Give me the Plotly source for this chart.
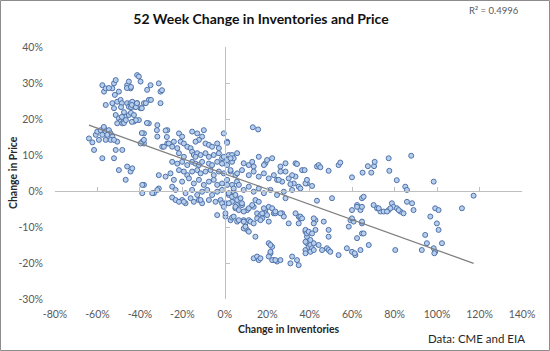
import plotly.graph_objects as go

# ---- data (percent) ----
inv_change = [
    # left cluster
    -57.7,-56.9,-56.1,-53.0,-52.2,-51.4,-51.8,-49.9,-46.0,-45.2,-44.4,-41.3,-40.5,-39.7,-36.6,-35.0,-31.1,-30.3,
    -56.1,-53.0,-52.2,-50.7,-49.1,-46.0,-45.2,-44.4,-43.6,-42.8,-41.3,-39.7,-38.1,-35.8,-30.3,
    -51.4,-49.9,-49.1,-50.7,-48.3,-47.5,-46.7,-45.2,-42.8,-40.5,-35.8,-31.8,-38.1,-31.8,-27.1,
    -64.0,-60.8,-60.1,-58.5,-56.9,-56.1,-54.6,-53.8,-53.0,-55.4,-57.7,-59.3,-56.1,-53.8,-50.7,
    -61.6,-57.7,-52.2,-48.3,-49.9,-46.0,-44.4,-43.6,-46.7,-38.1,-38.9,-31.1,-31.8,-38.1,-38.9,-39.7,-29.5,-27.1,
    -54.6,-48.5,-48.9,-47.5,-48.5,-46.1,-44.2,-44.2,-43.8,-41.9,-41.4,-37.2,-39.1,-34.8,-29.6,-44.2,-42.8,-41.9,
    -43.8,-47.5,-46.6,-36.7,-32.0,-39.1,-38.1,-27.3,-57.0,-52.2,-51.4,-33.4,-62.4,
    # region -30..0
    -27.9,-21.6,-20.1,-20.8,-15.4,-13.0,-9.9,-10.7,-12.2,-13.8,
    -28.7,-26.4,-24.0,-24.8,-22.4,-19.3,-17.7,-16.1,-9.1,-7.5,-6.0,-3.6,-2.8,1.1,
    -15.4,-14.6,-13.0,-13.8,-11.4,-21.6,-19.3,-9.1,-7.5,-5.2,-2.8,-1.3,1.9,
    -24.8,-22.4,-20.1,-17.7,-15.4,-13.8,-12.2,-10.7,-7.5,-6.0,-3.6,-1.3,1.1,3.4,
    -31.1,-27.9,-25.6,-21.6,-19.3,-17.7,-15.4,-13.0,-11.4,-9.1,-6.7,-5.2,-2.8,-0.5,2.7,5.0,
    -24.0,-20.1,-16.9,-14.6,-12.2,-9.9,-7.5,-5.2,-3.6,-1.3,1.1,3.4,5.7,
    -23.2,-18.5,-15.4,-13.0,-10.7,-8.3,-6.0,-3.6,-1.3,1.9,4.2,
    -20.1,-18.5,-16.1,-14.6,-12.2,-10.7,-7.5,-4.4,-2.0,0.3,3.4,5.7,
    -24.8,-23.2,-21.6,-19.3,-11.4,
    -3.6,0.3,-1.3,-0.5,2.7,5.8,9.7,10.5,8.9,-38.9,-34.2,-24.8,-0.5,
    # region 0..35
    13.2,15.7,1.1,-0.5,1.1,3.4,5.8,4.2,2.7,
    8.9,11.3,12.9,13.6,16.0,19.1,19.9,22.3,26.2,28.6,28.6,33.3,34.0,36.4,18.4,
    2.7,5.8,8.1,11.3,13.6,16.0,18.4,20.7,23.1,24.6,27.0,30.1,32.5,34.8,33.3,
    1.1,4.2,6.6,8.9,11.3,13.6,16.0,18.4,21.5,24.6,27.8,28.6,31.7,35.6,
    1.9,5.0,8.1,10.5,13.6,15.2,19.1,23.1,27.0,27.8,34.8,
    0.3,3.4,8.9,11.3,12.1,16.8,17.6,19.1,20.7,23.8,30.1,34.8,38.0,38.7,38.7,38.0,
    9.7,11.3,14.4,20.7,22.3,21.5,20.7,13.6,15.2,16.0,16.8,23.1,24.6,26.2,31.7,34.0,34.8,
    21.5,21.5,22.3,23.8,30.9,
    17.6,18.4,19.9,20.7,22.3,23.8,26.2,
    1.9,3.4,5.0,5.8,7.4,8.1,5.0,6.6,8.9,11.3,12.9,14.4,16.0,4.2,6.6,8.9,13.6,15.2,16.8,
    # region > 35
    38.0,38.7,39.5,38.0,39.5,40.3,41.1,41.9,40.3,44.2,45.8,48.1,48.9,49.7,48.9,46.6,42.7,41.9,
    53.6,57.5,59.9,61.5,62.3,58.4,59.2,60.7,64.6,64.6,67.8,80.3,92.8,95.2,98.4,99.1,94.4,
    99.9,100.7,102.3,96.8,99.1,100.7,111.7,117.2,
    50.5,43.4,33.3,35.6,
    59.9,62.3,63.9,64.6,65.4,
    70.1,71.7,73.3,74.8,77.2,78.7,79.5,78.0,81.1,82.7,84.2,85.8,88.2,88.9,
    85.0,85.8,98.4,81.0,
    37.6,43.4,44.2,45.0,48.9,53.6,54.4,59.9,64.9,67.4,69.0,70.3,70.6,77.2,77.5,87.8,
    26.2,31.7,38.7,41.1,30.9,25.4,38.0,38.7,
    40.3,48.9,42.7,41.1,38.0,41.9,35.6,36.4,41.9,
    62.3,64.6,64.6,72.5,76.4,81.9,59.9,63.9,65.4,61.2,98.7,
]

price_change = [
    # left cluster
    29.4,27.6,28.5,28.5,29.9,30.8,26.7,27.6,29.4,30.4,28.5,32.2,31.8,30.4,28.1,29.4,29.9,27.6,
    23.9,24.4,23.0,24.8,25.3,24.4,23.4,24.4,24.8,23.4,24.4,23.0,24.4,25.3,24.4,
    21.1,20.2,19.3,18.8,18.8,19.7,20.6,21.1,19.3,19.7,18.8,18.3,16.0,15.1,16.9,
    14.6,15.6,16.5,16.9,17.4,16.5,16.9,16.0,15.1,15.6,15.6,14.2,14.2,14.2,13.7,
    11.4,9.1,9.1,11.4,5.8,6.8,5.4,6.3,3.1,1.7,-0.6,0.7,0.3,13.2,13.7,13.2,12.3,13.2,
    28.6,24.4,23.3,21.9,20.6,28.6,28.9,23.3,23.9,23.3,24.4,24.4,23.0,25.3,28.0,21.7,21.1,19.7,
    19.2,18.9,19.7,18.9,16.9,16.1,14.2,15.0,17.8,14.2,11.4,-0.6,13.5,
    # region -30..0
    16.8,16.0,15.1,13.7,16.5,16.0,16.9,15.1,14.2,13.7,
    12.3,13.2,13.7,12.3,11.9,13.2,12.3,11.9,13.2,12.8,12.3,13.2,11.9,13.7,
    10.9,10.0,10.5,9.5,10.0,10.5,9.5,10.5,9.5,10.0,10.5,9.1,10.0,
    8.1,7.6,8.1,7.2,8.1,7.6,7.2,8.1,7.6,7.2,8.1,7.6,7.2,8.1,
    4.4,4.0,4.9,5.8,5.4,4.4,5.4,5.8,4.9,5.4,5.8,4.4,5.4,4.9,5.4,4.4,
    3.1,2.6,3.5,2.1,3.1,1.7,2.6,3.1,1.7,2.1,3.1,1.7,2.6,
    0.3,-0.6,0.3,-1.1,-0.2,0.3,-1.1,-0.2,0.3,-1.1,-0.2,
    -2.5,-3.4,-2.0,-3.0,-2.5,-3.4,-2.5,-3.0,-2.5,-3.4,-3.0,-3.9,
    -1.8,-2.5,-3.0,-3.0,-2.5,
    -6.7,-7.1,-3.4,-4.4,-8.1,-8.5,-9.0,-10.8,-10.4,1.7,-0.6,1.2,16.0,
    # region 0..35
    17.7,17.1,13.4,9.5,8.6,10.0,10.5,9.1,9.1,
    7.7,7.2,8.1,6.8,9.5,7.7,8.6,9.1,6.8,7.7,5.4,7.7,7.5,5.8,7.2,
    5.8,4.9,5.8,4.4,5.4,4.0,4.9,3.5,4.4,3.1,2.6,3.5,2.1,1.2,4.0,
    1.7,0.7,1.7,0.3,1.2,-0.2,0.7,-0.6,0.3,-1.1,-0.2,-2.0,0.3,0.7,
    -3.4,-4.8,-3.9,-5.3,-4.4,-6.2,-5.3,-6.2,-6.2,-7.1,-7.1,
    -6.2,-7.4,-8.1,-8.1,-8.5,-6.7,-7.6,-6.2,-8.5,-6.2,-9.0,-9.0,-11.3,-12.7,-14.5,-16.4,
    -9.9,-11.3,-12.7,-14.5,-15.5,-17.3,-18.2,-18.7,-18.2,-19.2,-18.7,-19.2,-19.6,-19.2,-18.2,-19.2,-20.6,
    -15.0,-16.9,-19.2,-19.2,-20.1,
    -6.2,-4.8,-6.7,-4.4,-4.8,-5.7,-6.2,
    -0.6,-1.6,-1.1,-2.5,-2.0,-3.4,-4.4,-5.3,-5.7,-4.8,-3.9,-2.5,-3.0,-7.1,-8.1,-8.5,-9.0,-7.6,-8.1,
    # region > 35
    -10.8,-11.8,-11.3,-14.1,-15.5,-15.0,-15.9,-14.5,-16.9,-15.0,-16.4,-15.9,-16.4,-16.9,-10.8,-8.5,-8.1,-9.0,
    -17.8,-15.9,-16.9,-17.8,-13.1,-9.9,-8.1,-8.5,-9.0,-11.8,-15.0,-16.4,-16.4,-14.5,-15.9,-16.9,-12.2,
    -9.0,-10.8,-14.5,-7.1,-4.8,-5.3,-4.8,-1.3,
    -2.0,-2.7,-6.2,-7.6,
    -5.3,-3.9,-5.3,-2.0,-1.6,
    -3.9,-4.8,-5.7,-5.7,-5.3,-3.4,-4.4,-4.8,-4.8,-5.7,-6.2,-3.0,-3.4,-5.3,
    1.2,0.3,2.6,3.0,
    5.8,6.8,7.2,6.6,5.6,7.2,7.9,3.8,5.1,6.9,5.1,6.9,8.1,9.1,5.6,9.8,
    5.4,4.4,2.1,1.4,1.9,3.1,2.1,3.1,
    -13.6,-12.7,-10.8,-11.8,-17.3,-16.4,-7.1,-7.6,-7.6,
    -4.4,-4.4,-8.5,-4.8,-5.7,-5.3,-7.6,-16.4,-11.8,-17.3,-17.3,
]

# linear trend line
trend_x = [-64.0, 117.2]
trend_y = [18.3, -20.1]

x_ticks = [-80, -60, -40, -20, 0, 20, 40, 60, 80, 100, 120, 140]
x_tick_labels = ["-80%", "-60%", "-40%", "-20%", "0%", "20%", "40%", "60%", "80%", "100%", "120%", "140%"]
y_ticks = [-30, -20, -10, 0, 10, 20, 30, 40]
y_tick_labels = ["-30%", "-20%", "-10%", "0%", "10%", "20%", "30%", "40%"]

X_RANGE = [-80, 140]
Y_RANGE = [-30, 40]

FONT = "Lato, 'Open Sans', sans-serif"
GRAY_TXT = "#595959"
AXIS_GRAY = "#bfbfbf"

fig = go.Figure()
fig.add_trace(go.Scatter(
    x=inv_change, y=price_change, mode="markers",
    marker=dict(size=5, color="#b7cfec", line=dict(color="#4f72aa", width=1)),
    showlegend=False, hoverinfo="x+y",
))
fig.add_trace(go.Scatter(
    x=trend_x, y=trend_y, mode="lines", xaxis="x2", yaxis="y2",
    line=dict(color="#7f7f7f", width=1.25), showlegend=False, hoverinfo="skip",
))

W, H = 550, 351
ml, mr, mt, mb = 55, 28, 47, 52
pw, ph = W - ml - mr, H - mt - mb

def px_x(px):
    return (px - ml) / pw

def px_y(py):
    return (H - mb - py) / ph

fig.update_layout(
    width=W, height=H,
    margin=dict(l=ml, r=mr, t=mt, b=mb),
    paper_bgcolor="white", plot_bgcolor="white",
    font=dict(family=FONT, color=GRAY_TXT, size=10.5),
    xaxis=dict(range=X_RANGE, tickvals=x_ticks, ticktext=x_tick_labels,
               showgrid=False, zeroline=False, showline=False,
               ticks="outside", ticklen=5, tickcolor="rgba(0,0,0,0)",
               tickfont=dict(size=10.5, color=GRAY_TXT, family=FONT)),
    yaxis=dict(range=Y_RANGE, tickvals=y_ticks, ticktext=y_tick_labels,
               showgrid=False, zeroline=False, showline=False,
               ticks="outside", ticklen=9, tickcolor="rgba(0,0,0,0)",
               tickfont=dict(size=10.5, color=GRAY_TXT, family=FONT)),
    xaxis2=dict(range=X_RANGE, overlaying="x", anchor="free",
                position=(0 - Y_RANGE[0]) / (Y_RANGE[1] - Y_RANGE[0]),
                tickvals=x_ticks, showticklabels=False, showgrid=False, zeroline=False,
                showline=True, linecolor=AXIS_GRAY, linewidth=1,
                ticks="inside", ticklen=4, tickcolor=AXIS_GRAY),
    yaxis2=dict(range=Y_RANGE, overlaying="y", anchor="free",
                position=(0 - X_RANGE[0]) / (X_RANGE[1] - X_RANGE[0]),
                tickvals=y_ticks, showticklabels=False, showgrid=False, zeroline=False,
                showline=True, linecolor=AXIS_GRAY, linewidth=1,
                ticks="inside", ticklen=4, tickcolor=AXIS_GRAY),
    title=dict(text="<b>52 Week Change in Inventories and Price</b>",
               x=261 / W, xanchor="center", y=1 - 19 / H, yanchor="middle",
               font=dict(family=FONT, size=14, color="#111111")),
)

fig.add_annotation(text="R² = 0.4996", xref="paper", yref="paper",
                   x=px_x(521), y=px_y(10), xanchor="right", yanchor="middle",
                   showarrow=False, font=dict(family=FONT, size=9.5, color=GRAY_TXT))
fig.add_annotation(text="<b>Change in Inventories</b>", xref="paper", yref="paper",
                   x=px_x(289), y=px_y(329), xanchor="center", yanchor="middle",
                   showarrow=False, font=dict(family=FONT, size=10.5, color="#262626"))
fig.add_annotation(text="<b>Change in Price</b>", xref="paper", yref="paper",
                   x=px_x(13), y=px_y(173), xanchor="center", yanchor="middle",
                   textangle=-90, showarrow=False,
                   font=dict(family=FONT, size=10.5, color="#262626"))
fig.add_annotation(text="Data: CME and EIA", xref="paper", yref="paper",
                   x=px_x(527), y=px_y(338), xanchor="right", yanchor="middle",
                   showarrow=False, font=dict(family=FONT, size=11.5, color="#262626"))

# chart border
fig.add_shape(type="rect", xref="paper", yref="paper",
              x0=px_x(0.5), x1=px_x(549.5), y0=px_y(350.5), y1=px_y(0.5),
              line=dict(color="#8c8c8c", width=1), fillcolor="rgba(0,0,0,0)", layer="above")

fig.write_html("out.html")
